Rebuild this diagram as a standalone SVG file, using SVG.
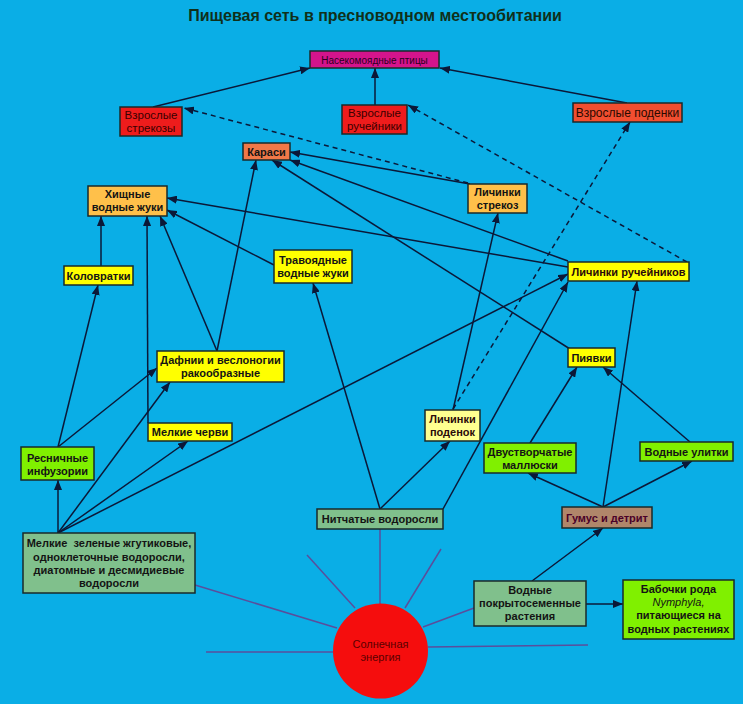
<svg xmlns="http://www.w3.org/2000/svg" width="743" height="704" viewBox="0 0 743 704">
<style>
.bx{stroke:#1a2a2a;stroke-width:1.5}
.t{font-family:"Liberation Sans",Arial,sans-serif;font-size:11px;font-weight:bold;fill:#141414;text-anchor:middle}
.tr{font-family:"Liberation Sans",Arial,sans-serif;font-size:11.5px;fill:#3a0000;text-anchor:middle}
.c{stroke:#0b1838;stroke-width:1.5;fill:none}
.d{stroke:#0b1838;stroke-width:1.5;fill:none;stroke-dasharray:5 4}
.ray{stroke:#5a4e9c;stroke-width:1.5;fill:none}
</style>
<defs>
<marker id="ah" markerUnits="userSpaceOnUse" markerWidth="10" markerHeight="8" refX="10" refY="4" orient="auto">
<path d="M0,0 L10,4 L0,8 z" fill="#0b1838"/>
</marker>
</defs>
<rect width="743" height="704" fill="#0aaee6"/>
<text x="375" y="21" font-family="'Liberation Sans',Arial,sans-serif" font-size="16" font-weight="bold" fill="#10301a" text-anchor="middle">Пищевая сеть в пресноводном местообитании</text>

<g id="rays">
<line class="ray" x1="380" y1="604" x2="380" y2="529"/>
<line class="ray" x1="355" y1="608" x2="307" y2="555"/>
<line class="ray" x1="405" y1="608" x2="441" y2="549"/>
<line class="ray" x1="337" y1="628" x2="195" y2="585"/>
<line class="ray" x1="333" y1="652" x2="206" y2="652"/>
<line class="ray" x1="423" y1="627" x2="474" y2="608"/>
<line class="ray" x1="428" y1="647" x2="588" y2="645"/>
</g>

<g id="connectors">
<line class="c" x1="153" y1="107" x2="310" y2="68" marker-end="url(#ah)"/>
<line class="c" x1="375" y1="105" x2="375" y2="68" marker-end="url(#ah)"/>
<line class="c" x1="627" y1="103" x2="440" y2="68" marker-end="url(#ah)"/>
<line class="d" x1="468" y1="183" x2="184" y2="108" marker-end="url(#ah)"/>
<line class="d" x1="687" y1="262" x2="408" y2="105" marker-end="url(#ah)"/>
<line class="d" x1="453" y1="409" x2="630" y2="122" marker-end="url(#ah)"/>
<line class="c" x1="101" y1="266" x2="101" y2="216" marker-end="url(#ah)"/>
<line class="c" x1="148" y1="423" x2="147" y2="216" marker-end="url(#ah)"/>
<line class="c" x1="217" y1="351" x2="160" y2="216" marker-end="url(#ah)"/>
<line class="c" x1="217" y1="351" x2="256" y2="160" marker-end="url(#ah)"/>
<line class="c" x1="274" y1="265" x2="167" y2="210" marker-end="url(#ah)"/>
<line class="c" x1="568" y1="267" x2="167" y2="198" marker-end="url(#ah)"/>
<line class="c" x1="568" y1="261" x2="290" y2="160" marker-end="url(#ah)"/>
<line class="c" x1="570" y1="349" x2="272" y2="160" marker-end="url(#ah)"/>
<line class="c" x1="470" y1="184" x2="290" y2="152" marker-end="url(#ah)"/>
<line class="c" x1="453" y1="410" x2="498" y2="213" marker-end="url(#ah)"/>
<line class="c" x1="380" y1="509" x2="313" y2="283" marker-end="url(#ah)"/>
<line class="c" x1="380" y1="509" x2="450" y2="441" marker-end="url(#ah)"/>
<line class="c" x1="443" y1="509" x2="568" y2="282" marker-end="url(#ah)"/>
<line class="c" x1="58" y1="533" x2="568" y2="274" marker-end="url(#ah)"/>
<line class="c" x1="58" y1="533" x2="58" y2="480" marker-end="url(#ah)"/>
<line class="c" x1="58" y1="533" x2="170" y2="382" marker-end="url(#ah)"/>
<line class="c" x1="58" y1="533" x2="188" y2="441" marker-end="url(#ah)"/>
<line class="c" x1="58" y1="447" x2="98" y2="285" marker-end="url(#ah)"/>
<line class="c" x1="58" y1="447" x2="157" y2="368" marker-end="url(#ah)"/>
<line class="c" x1="530" y1="443" x2="577" y2="367" marker-end="url(#ah)"/>
<line class="c" x1="690" y1="442" x2="603" y2="367" marker-end="url(#ah)"/>
<line class="c" x1="603" y1="507" x2="528" y2="473" marker-end="url(#ah)"/>
<line class="c" x1="603" y1="507" x2="692" y2="461" marker-end="url(#ah)"/>
<line class="c" x1="603" y1="507" x2="637" y2="281" marker-end="url(#ah)"/>
<line class="c" x1="532" y1="581" x2="603" y2="528" marker-end="url(#ah)"/>
<line class="c" x1="586" y1="604" x2="623" y2="604" marker-end="url(#ah)"/>
</g>

<g id="ptitsy"><rect class="bx" x="310" y="51" width="129" height="17" fill="#d4148c"/><text class="tr" x="374.5" y="63.5" style="font-size:10px;fill:#2a0020">Насекомоядные птицы</text></g>
<g id="vzr-strekozy"><rect class="bx" x="120" y="107" width="62" height="29" fill="#ee1c1c"/><text class="tr" x="151" y="119">Взрослые</text><text class="tr" x="151" y="132">стрекозы</text></g>
<g id="vzr-rucheiniki"><rect class="bx" x="342" y="105" width="65" height="29" fill="#ee1c1c"/><text class="tr" x="374.5" y="116.5">Взрослые</text><text class="tr" x="374.5" y="130">ручейники</text></g>
<g id="vzr-podenki"><rect class="bx" x="573" y="103" width="109" height="19" fill="#f04e30"/><text class="tr" x="627.5" y="116.5" style="font-size:12px;fill:#2a0a00">Взрослые поденки</text></g>
<g id="karasi"><rect class="bx" x="243" y="143" width="47" height="17" fill="#f07848"/><text class="t" x="266.5" y="155.5">Караси</text></g>
<g id="khishchnye"><rect class="bx" x="88" y="186" width="79" height="30" fill="#ffc04a"/><text class="t" x="127.5" y="198">Хищные</text><text class="t" x="127.5" y="211">водные жуки</text></g>
<g id="lich-strekoz"><rect class="bx" x="468" y="184" width="59" height="29" fill="#ffc04a"/><text class="t" x="497.5" y="196">Личинки</text><text class="t" x="497.5" y="209">стрекоз</text></g>
<g id="kolovratki"><rect class="bx" x="64" y="266" width="69" height="19" fill="#ffff00"/><text class="t" x="98.5" y="279.5">Коловратки</text></g>
<g id="travoyadnye"><rect class="bx" x="274" y="250" width="78" height="33" fill="#ffff00"/><text class="t" x="313" y="264">Травоядные</text><text class="t" x="313" y="277">водные жуки</text></g>
<g id="lich-rucheinikov"><rect class="bx" x="568" y="262" width="121" height="19" fill="#ffff00"/><text class="t" x="628.5" y="275.5" style="fill:#2a0a0a">Личинки ручейников</text></g>
<g id="dafnii"><rect class="bx" x="157" y="351" width="127" height="31" fill="#ffff00"/><text class="t" x="220.5" y="364">Дафнии и веслоногии</text><text class="t" x="220.5" y="377">ракообразные</text></g>
<g id="piyavki"><rect class="bx" x="568" y="348" width="47" height="19" fill="#ffff00"/><text class="t" x="591.5" y="361.5">Пиявки</text></g>
<g id="chervi"><rect class="bx" x="148" y="423" width="84" height="18" fill="#ffff00"/><text class="t" x="190" y="436">Мелкие черви</text></g>
<g id="infuzorii"><rect class="bx" x="21" y="447" width="73" height="33" fill="#80f000"/><text class="t" x="57.5" y="462">Ресничные</text><text class="t" x="57.5" y="475">инфузории</text></g>
<g id="lich-podenok"><rect class="bx" x="425" y="410" width="55" height="31" fill="#ffff90"/><text class="t" x="452.5" y="423" style="fill:#2a0a0a">Личинки</text><text class="t" x="452.5" y="435.5" style="fill:#2a0a0a">поденок</text></g>
<g id="dvustvorchatye"><rect class="bx" x="484" y="443" width="92" height="30" fill="#80f000"/><text class="t" x="530" y="456">Двустворчатые</text><text class="t" x="530" y="469">маллюски</text></g>
<g id="ulitki"><rect class="bx" x="640" y="442" width="93" height="19" fill="#80f000"/><text class="t" x="686.5" y="455.5">Водные улитки</text></g>
<g id="gumus"><rect class="bx" x="562" y="507" width="90" height="21" fill="#b0866a"/><text class="t" x="607" y="521.5" style="fill:#4a0028">Гумус и детрит</text></g>
<g id="nitchatye"><rect class="bx" x="317" y="509" width="126" height="20" fill="#80c08c"/><text class="t" x="380" y="523">Нитчатые водоросли</text></g>
<g id="melkie-vodorosli"><rect class="bx" x="23" y="533" width="172" height="60" fill="#80c08c"/><text class="t" x="109" y="547" xml:space="preserve">Мелкие  зеленые жгутиковые,</text><text class="t" x="109" y="561">одноклеточные водоросли,</text><text class="t" x="109" y="574">диатомные и десмидиевые</text><text class="t" x="109" y="587">водоросли</text></g>
<g id="pokrytosemennye"><rect class="bx" x="474" y="581" width="112" height="45" fill="#80c08c"/><text class="t" x="530" y="594">Водные</text><text class="t" x="530" y="607">покрытосеменные</text><text class="t" x="530" y="620">растения</text></g>
<g id="babochki"><rect class="bx" x="623" y="580" width="111" height="59" fill="#80f000"/><text class="t" x="678.5" y="593">Бабочки рода</text><text class="t" x="678.5" y="606" style="font-weight:normal;font-style:italic">Nymphyla,</text><text class="t" x="678.5" y="619">питающиеся на</text><text class="t" x="678.5" y="633">водных растениях</text></g>
<g id="solnce"><circle cx="380.5" cy="651" r="47.5" fill="#f50d0d"/><text class="tr" x="380.5" y="648" style="font-size:11px;fill:#5a0000">Солнечная</text><text class="tr" x="380.5" y="661" style="font-size:11px;fill:#5a0000">энергия</text></g>
</svg>
